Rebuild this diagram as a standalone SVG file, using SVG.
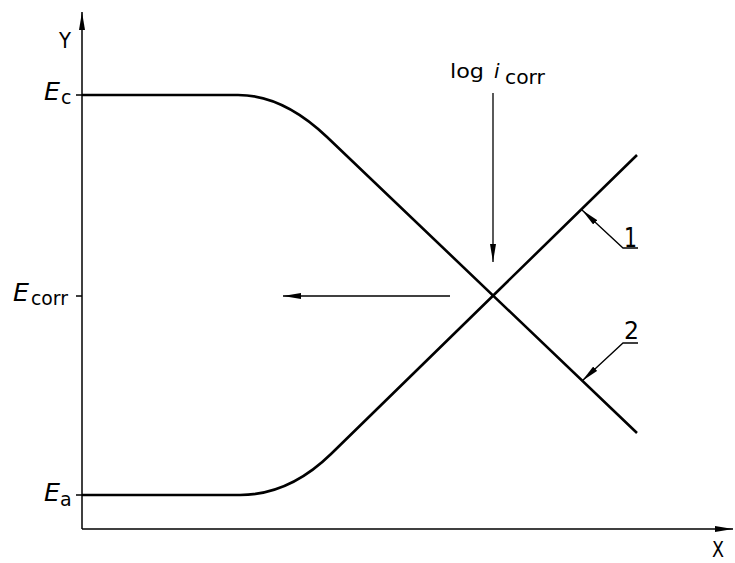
<svg xmlns="http://www.w3.org/2000/svg" width="735" height="563" viewBox="0 0 735 563">
<style>
.ax{stroke:#000;stroke-width:1.5;fill:none}
.cv{stroke:#000;stroke-width:2.6;fill:none}
.ld{stroke:#000;stroke-width:1.3;fill:none}
.t{font-family:"DejaVu Sans","Liberation Sans",sans-serif;fill:#000}
.it{font-style:italic}
</style>
<defs>
<marker id="ah" viewBox="0 0 18 6" refX="18" refY="3" markerWidth="18" markerHeight="6" markerUnits="userSpaceOnUse" orient="auto">
<path d="M0,0 L18,3 L0,6 Z" fill="#000"/>
</marker>
</defs>
<rect width="735" height="563" fill="#fff"/>
<g id="axes">
<path class="ax" d="M82,529 V12" marker-end="url(#ah)"/>
<path class="ax" d="M82,529 H733" marker-end="url(#ah)"/>
<path class="ax" d="M76,95 H82 M76,296 H82 M76,495 H82"/>
<text class="t" x="59" y="48" font-size="22" textLength="12" lengthAdjust="spacingAndGlyphs">Y</text>
<text class="t" x="712" y="557" font-size="22" textLength="12" lengthAdjust="spacingAndGlyphs">X</text>
</g>
<g id="labels-y">
<text class="t it" x="44" y="100" font-size="25" textLength="16" lengthAdjust="spacingAndGlyphs">E</text>
<text class="t" x="61" y="104" font-size="19">c</text>
<text class="t it" x="13" y="301" font-size="25" textLength="16" lengthAdjust="spacingAndGlyphs">E</text>
<text class="t" x="31" y="305" font-size="19" textLength="37" lengthAdjust="spacingAndGlyphs">corr</text>
<text class="t it" x="44" y="501" font-size="25" textLength="16" lengthAdjust="spacingAndGlyphs">E</text>
<text class="t" x="60" y="506" font-size="19">a</text>
</g>
<g id="curve-2">
<path class="cv" d="M82,95 H238 Q283,95 327,137 L637,433"/>
</g>
<g id="curve-1">
<path class="cv" d="M82,495 H240 Q289,495 331,454 L637,155"/>
</g>
<g id="connectors">
<path class="ld" d="M493,93 V262" marker-end="url(#ah)"/>
<path class="ld" d="M450,296 H283" marker-end="url(#ah)"/>
<path class="ld" d="M638,248 H623 L582,210" marker-end="url(#ah)"/>
<path class="ld" d="M638,343 H623 L582,381" marker-end="url(#ah)"/>
</g>
<g id="label-log">
<text class="t" x="450" y="78" font-size="20" textLength="34" lengthAdjust="spacingAndGlyphs">log</text>
<text class="t it" x="494" y="78" font-size="20">i</text>
<text class="t" x="505" y="84" font-size="19" textLength="40" lengthAdjust="spacingAndGlyphs">corr</text>
</g>
<g id="label-1"><text class="t" x="624" y="247" font-size="26" textLength="13" lengthAdjust="spacingAndGlyphs">1</text></g>
<g id="label-2"><text class="t" x="624" y="339" font-size="24" textLength="15" lengthAdjust="spacingAndGlyphs">2</text></g>
</svg>
